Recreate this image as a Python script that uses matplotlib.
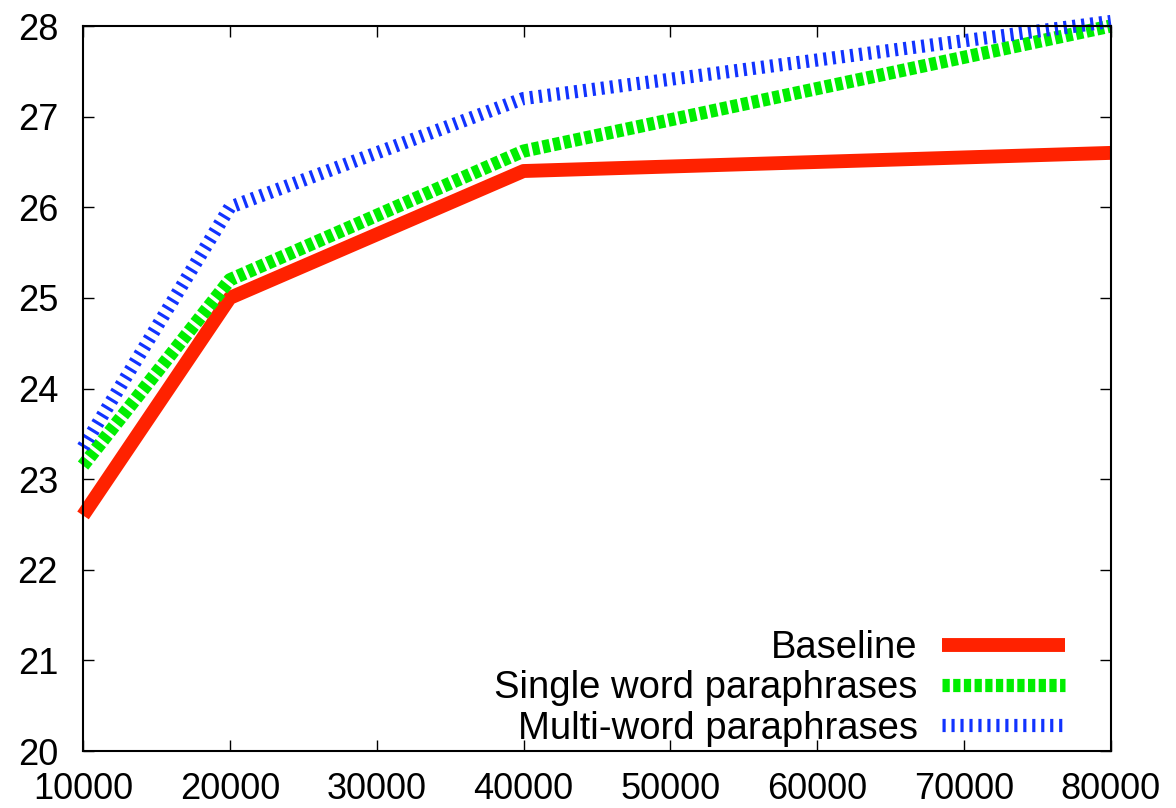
import matplotlib.pyplot as plt

plt.rcParams["font.family"] = ["Liberation Sans", "DejaVu Sans"]

sizes = [10000, 20000, 40000, 80000]
baseline = [22.6, 25.0, 26.4, 26.6]
single_word = [23.15, 25.2, 26.62, 28.0]
multi_word = [23.35, 26.0, 27.2, 28.05]

x_ticks = [10000, 20000, 30000, 40000, 50000, 60000, 70000, 80000]
y_ticks = [20, 21, 22, 23, 24, 25, 26, 27, 28]


def main():
    fig = plt.figure(figsize=(11.76, 8.08), dpi=100)
    ax = fig.add_axes([0.0706, 0.0705, 0.874, 0.8973])

    ax.plot(sizes, baseline, color="#ff2200", lw=10, solid_capstyle="butt",
            label="Baseline", clip_on=False)
    ax.plot(sizes, single_word, color="#00ee00", lw=9.5, dashes=(0.55, 0.26),
            label="Single word paraphrases", clip_on=False)
    ax.plot(sizes, multi_word, color="#1133ff", lw=9.5, dashes=(0.24, 0.44),
            label="Multi-word paraphrases", clip_on=False)

    ax.set_xlim(10000, 80000)
    ax.set_ylim(20, 28)
    ax.set_xticks(x_ticks)
    ax.set_yticks(y_ticks)
    ax.tick_params(direction="in", length=8, width=1, labelsize=26,
                   top=True, right=True)
    ax.tick_params(axis="y", pad=18)
    ax.tick_params(axis="x", pad=15)
    for s in ax.spines.values():
        s.set_linewidth(1.5)

    ax.legend(loc="lower right", bbox_to_anchor=(0.955, 0.006), frameon=False,
              markerfirst=False, fontsize=27.5, handlelength=3.2,
              handletextpad=0.65, labelspacing=0.11, borderaxespad=0.0,
              borderpad=0.0)

    fig.savefig("out.png", dpi=100)


if __name__ == "__main__":
    main()
